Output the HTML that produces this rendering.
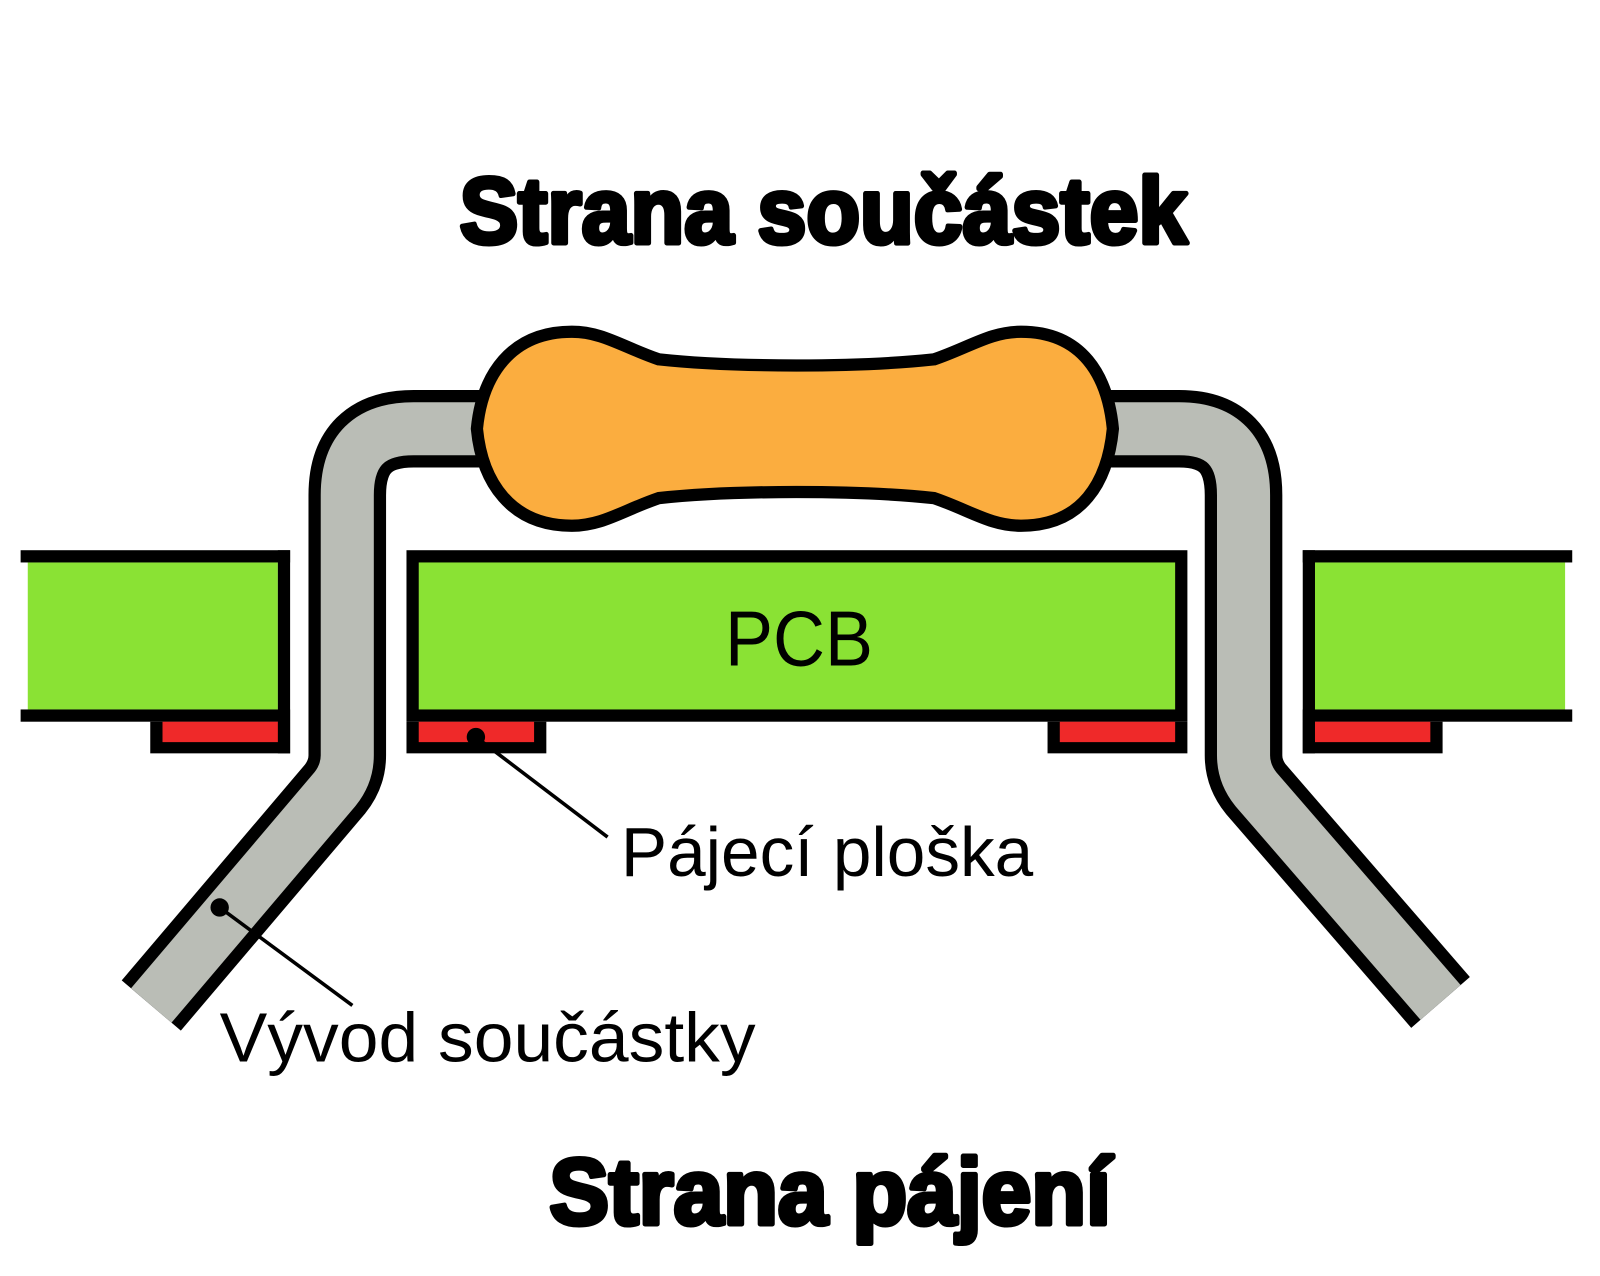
<!DOCTYPE html>
<html><head><meta charset="utf-8"><style>
html,body{margin:0;padding:0;background:#fff;}
svg{display:block;}
</style></head><body>
<svg width="1600" height="1276" viewBox="0 0 1567 1250" xmlns="http://www.w3.org/2000/svg">
<rect x="0" y="0" width="1567" height="1250" fill="#fff"/>
<!-- Leads -->
<g fill="none" stroke-linecap="butt" stroke-linejoin="round">
<path d="M480,420 L405,420 Q340,420 340,485 L340,740 Q340,758 328,773 L148,985" stroke="#000" stroke-width="76"/>
<path d="M480,420 L405,420 Q340,420 340,485 L340,740 Q340,758 328,773 L148,985" stroke="#babdb6" stroke-width="52"/>
<path d="M1080,420 L1155,420 Q1218,420 1218,485 L1218,740 Q1218,758 1230,773 L1411,982" stroke="#000" stroke-width="76"/>
<path d="M1080,420 L1155,420 Q1218,420 1218,485 L1218,740 Q1218,758 1230,773 L1411,982" stroke="#babdb6" stroke-width="52"/>
</g>
<!-- Resistor -->
<path d="M645,352 Q700,358 780,358 Q860,358 915,352 C950,340 970,325 1000,325 C1060,325 1085,368 1090,420 C1085,472 1060,515 1000,515 C970,515 950,500 915,488 Q860,482 780,482 Q700,482 645,488 C610,500 590,515 560,515 C500,515 472,472 467,420 C472,368 500,325 560,325 C590,325 610,340 645,352 Z" fill="#fbad3f" stroke="#000" stroke-width="12"/>
<!-- Left PCB -->
<rect x="27" y="551" width="245" height="144" fill="#8ae234"/>
<rect x="20" y="539" width="264" height="12" fill="#000"/>
<rect x="20" y="695" width="264" height="12" fill="#000"/>
<rect x="272" y="539" width="12" height="199" fill="#000"/>
<rect x="147" y="707" width="137" height="31" fill="#000"/>
<rect x="159" y="707" width="113" height="20" fill="#ef2929"/>
<!-- Middle PCB -->
<rect x="404" y="545" width="753" height="156" fill="#8ae234" stroke="#000" stroke-width="12"/>
<rect x="398" y="707" width="137" height="31" fill="#000"/>
<rect x="410" y="707" width="113" height="20" fill="#ef2929"/>
<rect x="1026" y="707" width="137" height="31" fill="#000"/>
<rect x="1038" y="707" width="113" height="20" fill="#ef2929"/>
<!-- Right PCB -->
<rect x="1288" y="551" width="245" height="144" fill="#8ae234"/>
<rect x="1276" y="539" width="264" height="12" fill="#000"/>
<rect x="1276" y="695" width="264" height="12" fill="#000"/>
<rect x="1276" y="539" width="12" height="199" fill="#000"/>
<rect x="1276" y="707" width="137" height="31" fill="#000"/>
<rect x="1288" y="707" width="113" height="20" fill="#ef2929"/>
<!-- Callouts -->
<circle cx="466" cy="722" r="9" fill="#000"/>
<line x1="466" y1="722" x2="595" y2="820" stroke="#000" stroke-width="3.5"/>
<circle cx="215" cy="889" r="9" fill="#000"/>
<line x1="215" y1="889" x2="345" y2="985" stroke="#000" stroke-width="3.5"/>
<!-- Text -->
<g font-family="'Liberation Sans', 'DejaVu Sans', sans-serif">
<text x="450" y="238" font-size="92" font-weight="bold" textLength="713" lengthAdjust="spacingAndGlyphs" stroke="#000" stroke-width="5" stroke-linejoin="round">Strana součástek</text>
<text x="538" y="1199" font-size="92" font-weight="bold" textLength="550" lengthAdjust="spacingAndGlyphs" stroke="#000" stroke-width="5" stroke-linejoin="round">Strana pájení</text>
<text x="710" y="652" font-size="76" textLength="145" lengthAdjust="spacingAndGlyphs">PCB</text>
<text x="608" y="858" font-size="68" textLength="404" lengthAdjust="spacingAndGlyphs">Pájecí ploška</text>
<text x="215" y="1040" font-size="68" textLength="525" lengthAdjust="spacingAndGlyphs">Vývod součástky</text>
</g>
</svg>
</body></html>
